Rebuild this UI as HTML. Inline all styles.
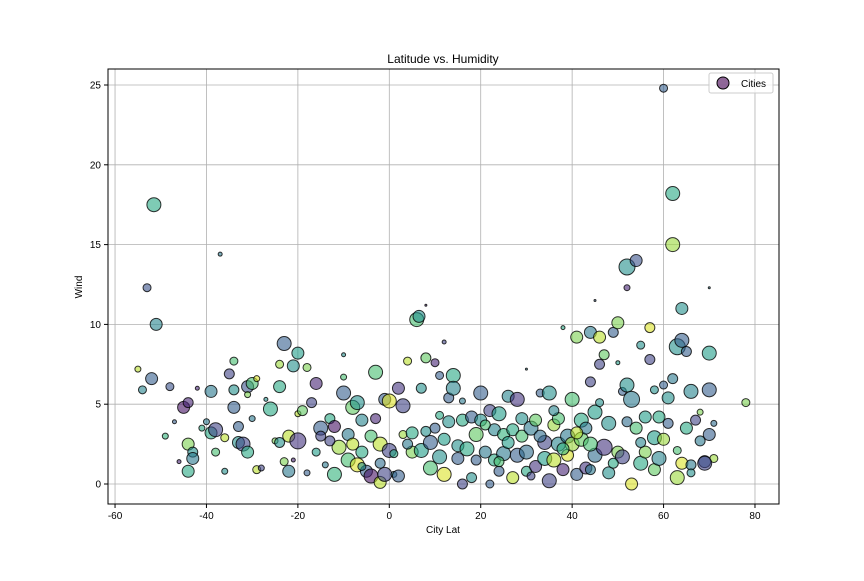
<!DOCTYPE html>
<html><head><meta charset="utf-8"><style>
body{margin:0;background:#fff}
svg{font-family:"Liberation Sans","DejaVu Sans",sans-serif}
</style></head><body>
<svg id="chart" width="864" height="576">
<rect width="864" height="576" fill="#fff"/>
<g id="grid"></g>
<g id="pts"></g>
<rect x="108" y="69" width="671" height="435" fill="none" stroke="#000" stroke-width="1"/>
<g id="ticks"></g>
<text x="443" y="63" font-size="12" text-anchor="middle">Latitude vs. Humidity</text>
<text x="443" y="533" font-size="10" text-anchor="middle">City Lat</text>
<text x="82" y="287" font-size="10" text-anchor="middle" transform="rotate(-90 82 287)">Wind</text>
<g>
<rect x="709" y="73" width="64" height="20" rx="2" fill="#fff" fill-opacity="0.8" stroke="#ccc"/>
<circle cx="723" cy="83" r="6" fill="#440154" fill-opacity="0.6" stroke="#000"/>
<text x="741" y="87" font-size="10">Cities</text>
</g>
</svg>
<script>
const lats=[-55,-54,-53,-51.5,-52,-51,-49,-48,-46,-45,-44,-44,-44,-43,-43,-42,-40,-39,-39,-38,-38,-37,-36,-35,-34,-34,-34,-33,-33,-32,-31,-31,-31,-30,-29,-29,-28,-26,-25,-24,-24,-24,-23,-23,-22,-22,-21,-20,-21,-20,-20,-19,-18,-17,-16,-16,-15,-15,-14,-13,-12,-12,-11,-10,-10,-9,-9,-8,-8,-7,-7,-6,-6,-5,-4,-4,-3,-3,-2,-2,-1,-1,0,0,1,2,2,3,3,4,5,5,6,6.5,7,7,8,8,9,9,10,10,11,11,12,12,13,13,14,14,15,15,16,16,17,18,18,19,20,20,21,22,22,23,23,24,24,25,25,26,27,27,28,28,29,29,30,30,31,32,32,33,34,34,35,35,36,36,37,37,38,38,39,39,40,40,41,41,42,42,43,43,44,44,45,45,45,46,46,47,47,48,48,49,50,50,51,51,52,52,52,53,53,54,54,55,55,56,56,57,57,58,58,59,59,60,60,60,61,62,62,62,63,63,64,64,64,65,65,66,66,67,68,69,70,70,70,70,71,78,69,-2,-36,44,24,
-47,-41,-27,-18,-13,-6,1,4,8,11,16,19,21,26,31,33,36,38,41,44,46,49,52,55,58,61,63,66,68,71,-10,-30,12,30,50];
const winds=[7.2,5.9,12.3,17.5,6.6,10,3,6.1,1.4,4.8,5.1,2.5,0.8,2,1.6,6,3.9,5.8,3.2,3.4,2,14.4,2.9,6.9,7.7,5.9,4.8,3.6,2.6,2.5,6.1,5.6,2,6.3,0.9,6.6,1,4.7,2.7,7.5,6.1,2.6,1.4,8.8,0.8,3,1.5,8.2,7.4,2.7,4.4,4.6,7.3,5.1,6.3,2,3.5,3,1.2,4.1,3.6,0.6,2.3,8.1,5.7,3.1,1.5,4.8,2.5,1.2,5.1,4,2,0.8,3,0.5,7,4.1,2.5,0.1,5.3,0.6,2.1,5.2,0.6,6,0.5,4.9,3.1,7.7,3.2,2,10.3,10.5,6,2.1,11.2,7.9,2.6,1,3.5,7.6,6.8,1.7,0.6,2.8,5.4,3.9,6.8,6,2.4,1.6,0,4,2.2,0.4,4.2,3.1,5.7,4,2,4.6,0,3.4,1.5,4.4,0.8,3.1,1.9,5.5,3.4,0.4,5.3,1.8,4.1,3,2,0.8,3.5,4,1.1,5.7,2.6,1.6,5.7,0.2,3.7,1.5,2.5,4.1,9.8,0.9,3,1.8,5.3,2.5,9.2,0.6,4,2.8,3.5,1,9.5,6.4,4.5,1.8,11.5,9.2,7.5,2.3,8.1,3.8,0.7,9.5,10.1,2,5.8,1.7,13.6,6.2,12.3,5.3,0,14,3.5,8.7,1.3,4.2,2,9.8,7.8,2.9,0.9,4.2,1.6,24.8,6.2,2.8,5.4,18.2,15,6.6,8.6,0.4,9,11,1.3,8.3,3.5,5.8,1.2,4,2.7,1.4,12.3,8.2,5.9,3.1,1.6,5.1,1.3,1.3,0.8,2.5,1.4,
3.9,3.5,5.3,0.7,2.7,1.1,1.9,2.5,3.3,4.3,5.2,1.5,3.7,2.6,0.5,3,4.6,2.2,3.2,0.9,5.1,1.3,3.9,2.6,5.9,3.8,2.1,0.7,4.5,3.8,6.7,4.1,8.9,7.2,7.6];
const sizes=[3,4,4,7,6,6,3,4,2,6,5,6,6,5,6,2,3,6,6,7,4,2,4,5,4,5,6,5,6,7,6,3,6,6,4,3,3,7,3,4,6,5,4,7,6,6,2,6,6,8,3,5,4,5,6,4,7,5,3,5,6,7,7,2,7,6,7,7,6,7,7,6,6,6,6,7,7,5,7,6,6,7,7,7,3,6,6,7,4,4,6,6,7,6,5,7,1,5,7,7,5,4,4,7,7,6,5,6,7,7,6,6,5,6,7,5,6,7,7,6,6,6,4,6,6,7,5,6,7,6,6,6,7,7,6,6,7,5,7,6,6,4,7,7,7,7,6,7,7,6,2,6,7,6,7,7,6,6,7,7,6,6,6,5,7,7,1,6,5,8,5,7,6,5,6,6,4,7,8,7,3,8,6,6,6,4,7,6,6,5,5,7,6,6,7,4,4,6,6,7,7,5,8,7,7,6,6,5,6,7,5,5,5,6,1,7,7,6,4,4,7,5,3,7,5,
2,3,2,3,5,4,4,5,5,4,3,5,5,6,4,6,5,6,6,5,4,5,5,5,4,5,4,4,3,3,3,3,2,1,2];
const colors=[0.9,0.45,0.25,0.6,0.3,0.45,0.65,0.25,0.1,0.05,0.1,0.8,0.6,0.5,0.4,0.1,0.4,0.4,0.6,0.2,0.7,0.4,0.9,0.2,0.7,0.5,0.3,0.3,0.5,0.2,0.25,0.8,0.6,0.7,0.9,0.95,0.2,0.6,0.8,0.85,0.6,0.5,0.8,0.3,0.4,0.9,0.1,0.55,0.5,0.15,0.9,0.75,0.8,0.2,0.1,0.55,0.3,0.2,0.4,0.6,0.05,0.65,0.85,0.5,0.3,0.4,0.7,0.75,0.9,0.95,0.5,0.45,0.6,0.3,0.7,0.05,0.7,0.1,0.9,0.9,0.3,0.2,0.2,0.95,0.4,0.15,0.3,0.2,0.85,0.9,0.6,0.8,0.7,0.5,0.5,0.55,0.1,0.75,0.3,0.7,0.3,0.1,0.3,0.5,0.95,0.55,0.3,0.5,0.6,0.45,0.5,0.3,0.2,0.6,0.6,0.5,0.3,0.75,0.3,0.5,0.4,0.2,0.3,0.45,0.6,0.55,0.3,0.65,0.4,0.45,0.6,0.9,0.15,0.3,0.5,0.7,0.35,0.6,0.4,0.75,0.15,0.3,0.2,0.55,0.5,0.2,0.85,0.9,0.45,0.7,0.6,0.1,0.4,0.95,0.7,0.85,0.8,0.3,0.6,0.75,0.4,0.15,0.4,0.2,0.55,0.35,0.3,0.9,0.2,0.15,0.75,0.5,0.5,0.3,0.8,0.8,0.3,0.2,0.5,0.5,0.1,0.4,0.95,0.25,0.7,0.5,0.6,0.55,0.8,0.95,0.2,0.55,0.75,0.6,0.45,0.3,0.3,0.85,0.5,0.6,0.85,0.4,0.5,0.85,0.3,0.5,0.95,0.3,0.6,0.45,0.4,0.2,0.4,0.3,0.4,0.55,0.3,0.3,0.85,0.8,0.2,0.35,0.5,0.7,0.7,
0.3,0.6,0.5,0.3,0.2,0.5,0.6,0.4,0.5,0.6,0.4,0.3,0.7,0.55,0.2,0.35,0.45,0.65,0.9,0.4,0.5,0.6,0.35,0.45,0.5,0.3,0.7,0.5,0.8,0.35,0.7,0.4,0.2,0.4,0.55];
const xTicks=[-60,-40,-20,0,20,40,60,80];
const yTicks=[0,5,10,15,20,25];

const NS="http://www.w3.org/2000/svg";
const xS=v=>389.3+v*4.571;
const yS=v=>484-v*15.96;
const vir=[[68,1,84],[72,40,120],[62,74,137],[49,104,142],[38,130,142],[31,158,137],[53,183,121],[109,205,89],[180,222,44],[253,231,37]];
function cmap(t){const p=t*9,i=Math.min(8,Math.floor(p)),f=p-i,a=vir[i],b=vir[i+1];
return `rgb(${a.map((c,k)=>Math.round(c+(b[k]-c)*f)).join(',')})`;}
function mk(tag,attrs,parent){const e=document.createElementNS(NS,tag);for(const k in attrs)e.setAttribute(k,attrs[k]);parent.appendChild(e);return e;}
const grid=document.getElementById('grid'),ticks=document.getElementById('ticks'),pts=document.getElementById('pts');
xTicks.forEach(t=>{const x=xS(t);
const g=mk('line',{x1:x,x2:x,y1:69,y2:504,stroke:'#b0b0b0','stroke-width':0.8},grid);


const l=mk('line',{x1:x,x2:x,y1:504,y2:508,stroke:'#000'},ticks);


const tx=mk('text',{x:x,y:519,'font-size':10,'text-anchor':'middle'},ticks);tx.textContent=t;

});
yTicks.forEach(t=>{const y=yS(t);
const g=mk('line',{x1:108,x2:779,y1:y,y2:y,stroke:'#b0b0b0','stroke-width':0.8},grid);


const l=mk('line',{x1:104,x2:108,y1:y,y2:y,stroke:'#000'},ticks);


const tx=mk('text',{x:101,y:y+3.5,'font-size':10,'text-anchor':'end'},ticks);tx.textContent=t;

});
lats.forEach((la,i)=>{
const c=mk('circle',{cx:xS(la),cy:yS(winds[i]),r:sizes[i],fill:cmap(colors[i]),'fill-opacity':0.6,stroke:'#000','stroke-opacity':0.8,'stroke-width':1},pts);

});
</script>
</body></html>
